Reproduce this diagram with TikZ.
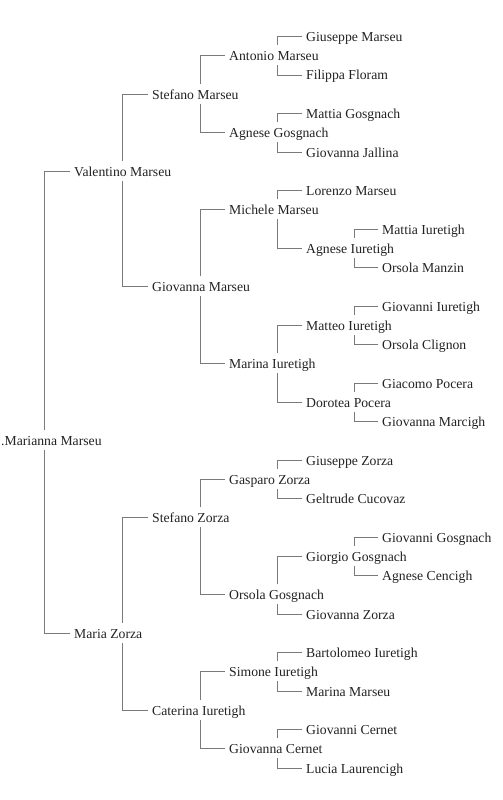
\documentclass[tikz,border=0pt]{standalone}
\usepackage{fontspec}
\setmainfont{Liberation Serif}
\definecolor{lncol}{RGB}{122,122,122}
\definecolor{txtcol}{RGB}{34,34,34}
\tikzset{
  pn/.style={anchor=west, inner sep=0pt, text height=10pt, text depth=0pt,
    font=\fontsize{13.7pt}{16pt}\selectfont, text=txtcol},
  ln/.style={draw=lncol, line width=1pt}
}
\newcommand\kin[4][48pt]{%
  \draw[ln] ([shift={(#1,10.5pt)}]#2.west) |- ([xshift=-4.5pt]#3.west);
  \draw[ln] ([shift={(#1,-9.5pt)}]#2.west) |- ([xshift=-4.5pt]#4.west);}
\begin{document}
\begin{tikzpicture}
\useasboundingbox (0pt,0pt) rectangle (503pt,-800pt);
\begin{scope}[x=1pt, y=-19.25pt, shift={(0pt,-36.5pt)}]
\node[pn] (r0)  at (306,0)  {Giuseppe Marseu};
\node[pn] (r1)  at (229,1)  {Antonio Marseu};
\node[pn] (r2)  at (306,2)  {Filippa Floram};
\node[pn] (r3)  at (152,3)  {Stefano Marseu};
\node[pn] (r4)  at (306,4)  {Mattia Gosgnach};
\node[pn] (r5)  at (229,5)  {Agnese Gosgnach};
\node[pn] (r6)  at (306,6)  {Giovanna Jallina};
\node[pn] (r7)  at (74,7)   {Valentino Marseu};
\node[pn] (r8)  at (306,8)  {Lorenzo Marseu};
\node[pn] (r9)  at (229,9)  {Michele Marseu};
\node[pn] (r10) at (382,10) {Mattia Iuretigh};
\node[pn] (r11) at (306,11) {Agnese Iuretigh};
\node[pn] (r12) at (382,12) {Orsola Manzin};
\node[pn] (r13) at (152,13) {Giovanna Marseu};
\node[pn] (r14) at (382,14) {Giovanni Iuretigh};
\node[pn] (r15) at (306,15) {Matteo Iuretigh};
\node[pn] (r16) at (382,16) {Orsola Clignon};
\node[pn] (r17) at (229,17) {Marina Iuretigh};
\node[pn] (r18) at (382,18) {Giacomo Pocera};
\node[pn] (r19) at (306,19) {Dorotea Pocera};
\node[pn] (r20) at (382,20) {Giovanna Marcigh};
\node[pn] (r21) at (1,21)   {.Marianna Marseu};
\node[pn] (r22) at (306,22) {Giuseppe Zorza};
\node[pn] (r23) at (229,23) {Gasparo Zorza};
\node[pn] (r24) at (306,24) {Geltrude Cucovaz};
\node[pn] (r25) at (152,25) {Stefano Zorza};
\node[pn] (r26) at (382,26) {Giovanni Gosgnach};
\node[pn] (r27) at (306,27) {Giorgio Gosgnach};
\node[pn] (r28) at (382,28) {Agnese Cencigh};
\node[pn] (r29) at (229,29) {Orsola Gosgnach};
\node[pn] (r30) at (306,30) {Giovanna Zorza};
\node[pn] (r31) at (74,31)  {Maria Zorza};
\node[pn] (r32) at (306,32) {Bartolomeo Iuretigh};
\node[pn] (r33) at (229,33) {Simone Iuretigh};
\node[pn] (r34) at (306,34) {Marina Marseu};
\node[pn] (r35) at (152,35) {Caterina Iuretigh};
\node[pn] (r36) at (306,36) {Giovanni Cernet};
\node[pn] (r37) at (229,37) {Giovanna Cernet};
\node[pn] (r38) at (306,38) {Lucia Laurencigh};
\end{scope}
\kin[43pt]{r21}{r7}{r31}
\kin{r7}{r3}{r13}
\kin{r3}{r1}{r5}
\kin{r1}{r0}{r2}
\kin{r5}{r4}{r6}
\kin{r13}{r9}{r17}
\kin{r9}{r8}{r11}
\kin{r11}{r10}{r12}
\kin{r17}{r15}{r19}
\kin{r15}{r14}{r16}
\kin{r19}{r18}{r20}
\kin{r31}{r25}{r35}
\kin{r25}{r23}{r29}
\kin{r23}{r22}{r24}
\kin{r29}{r27}{r30}
\kin{r27}{r26}{r28}
\kin{r35}{r33}{r37}
\kin{r33}{r32}{r34}
\kin{r37}{r36}{r38}
\end{tikzpicture}
\end{document}
